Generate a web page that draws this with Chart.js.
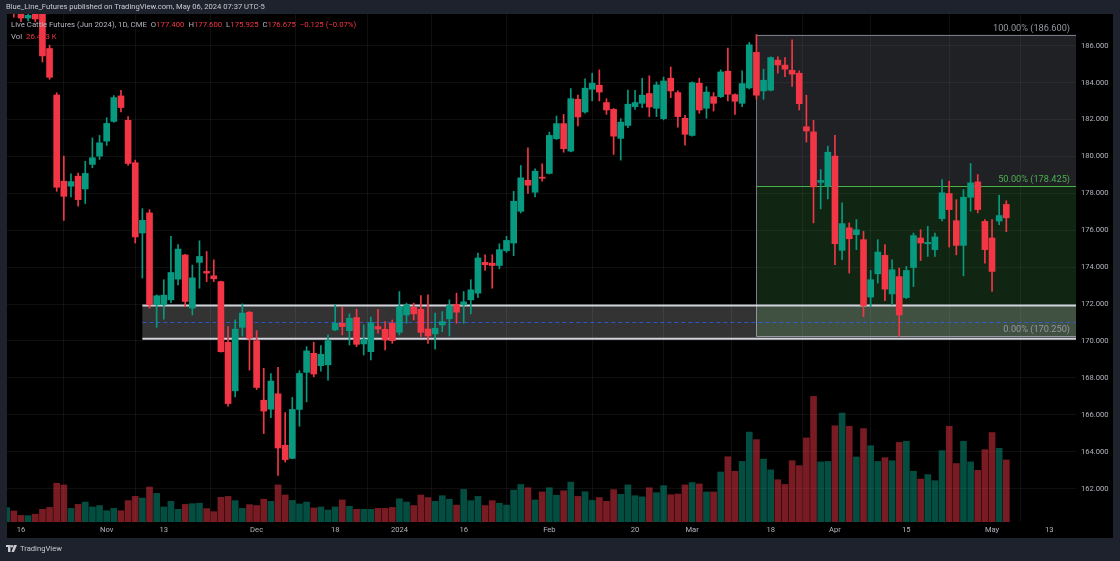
<!DOCTYPE html>
<html>
<head>
	<meta charset="utf-8">
	<title>Live Cattle Futures (Jun 2024)</title>
	<style>
		html, body { margin: 0; padding: 0; background: #1e222d; }
		#wrap { position: relative; width: 1120px; height: 561px; overflow: hidden; }
		#chart { position: absolute; left: 0; top: 0; }
		.txt { position: absolute; font-family: Roboto, "Liberation Sans", sans-serif; font-size: 8px; line-height: 10px; white-space: nowrap; color: #b2b5be; }
		.v { color: #f23645; }
		#header { left: 6px; top: 2px; color: #c9cbd1; }
		#legend1 { left: 11px; top: 20px; }
		#legend2 { left: 11px; top: 32px; }
		#footer { left: 6px; top: 544px; color: #c9cbd1; }
		#footer svg { vertical-align: -1px; margin-right: 3px; }
	</style>
</head>
<body>
<div id="wrap">
	<canvas id="chart" width="1120" height="561"></canvas>
	<div class="txt" id="header">Blue_Line_Futures published on TradingView.com, May 06, 2024 07:37 UTC-5</div>
	<div class="txt" id="legend1"></div>
	<div class="txt" id="legend2"></div>
	<div class="txt" id="footer"><svg width="11" height="7" viewBox="0 0 11 7"><rect x="0" y="0" width="4.5" height="2" fill="#c9cbd1"/><rect x="2" y="0" width="2.5" height="7" fill="#c9cbd1"/><circle cx="6" cy="1.3" r="1.2" fill="#c9cbd1"/><polygon points="8,0 11,0 8,7 5.5,7" fill="#c9cbd1"/></svg><span id="tvname">TradingView</span></div>
</div>
<script src="https://cdn.jsdelivr.net/npm/chart.js@4.4.0/dist/chart.umd.min.js"></script>
<script>
	// trading days shown, plus the empty days on the right
	const dates = [
		"2023-10-12","2023-10-13","2023-10-16","2023-10-17","2023-10-18","2023-10-19","2023-10-20",
		"2023-10-23","2023-10-24","2023-10-25","2023-10-26","2023-10-27","2023-10-30","2023-10-31",
		"2023-11-01","2023-11-02","2023-11-03","2023-11-06","2023-11-07","2023-11-08","2023-11-09","2023-11-10",
		"2023-11-13","2023-11-14","2023-11-15","2023-11-16","2023-11-17","2023-11-20","2023-11-21","2023-11-22","2023-11-24",
		"2023-11-27","2023-11-28","2023-11-29","2023-11-30","2023-12-01","2023-12-04","2023-12-05","2023-12-06","2023-12-07","2023-12-08",
		"2023-12-11","2023-12-12","2023-12-13","2023-12-14","2023-12-15","2023-12-18","2023-12-19","2023-12-20","2023-12-21","2023-12-22",
		"2023-12-26","2023-12-27","2023-12-28","2023-12-29","2024-01-02","2024-01-03","2024-01-04","2024-01-05",
		"2024-01-08","2024-01-09","2024-01-10","2024-01-11","2024-01-12","2024-01-16","2024-01-17","2024-01-18","2024-01-19",
		"2024-01-22","2024-01-23","2024-01-24","2024-01-25","2024-01-26","2024-01-29","2024-01-30","2024-01-31","2024-02-01","2024-02-02",
		"2024-02-05","2024-02-06","2024-02-07","2024-02-08","2024-02-09","2024-02-12","2024-02-13","2024-02-14","2024-02-15","2024-02-16",
		"2024-02-20","2024-02-21","2024-02-22","2024-02-23","2024-02-26","2024-02-27","2024-02-28","2024-02-29","2024-03-01",
		"2024-03-04","2024-03-05","2024-03-06","2024-03-07","2024-03-08","2024-03-11","2024-03-12","2024-03-13","2024-03-14","2024-03-15",
		"2024-03-18","2024-03-19","2024-03-20","2024-03-21","2024-03-22","2024-03-25","2024-03-26","2024-03-27","2024-03-28",
		"2024-04-01","2024-04-02","2024-04-03","2024-04-04","2024-04-05","2024-04-08","2024-04-09","2024-04-10","2024-04-11","2024-04-12",
		"2024-04-15","2024-04-16","2024-04-17","2024-04-18","2024-04-19","2024-04-22","2024-04-23","2024-04-24","2024-04-25","2024-04-26",
		"2024-04-29","2024-04-30","2024-05-01","2024-05-02","2024-05-03",
		"2024-05-06","2024-05-07","2024-05-08","2024-05-09","2024-05-10","2024-05-13","2024-05-14","2024-05-15","2024-05-16","2024-05-17"
	];

	const opens = [
		188.2,188.6,188.4,187.5,188.3,187.9,185.85,183.33,178.66,178.39,178.93,178.24,179.57,180.02,
		180.83,181.9,183.28,181.96,179.66,175.85,176.94,171.96,171.96,172.23,173.35,174.66,171.78,174.26,173.77,173.53,173.22,
		169.93,167.3,170.74,171.56,170.02,166.79,166.3,167.14,164.35,163.64,166.29,168.3,169.33,168.66,168.71,
		170.6,170.96,170.56,171.27,169.84,169.42,170.78,170.63,170.96,170.47,171.41,171.83,171.72,
		170.65,170.38,170.87,171.2,171.99,171.96,172.23,172.59,174.26,174.22,174.09,174.89,175.31,177.03,
		178.71,178.06,178.88,179.08,180.96,181.78,180.29,183.1,182.41,183.64,183.86,182.92,182.55,180.98,181.68,
		182.7,182.88,183.41,182.61,182.05,184.24,183.46,182.07,181.14,183.97,182.61,183.24,183.24,184.62,
		183.35,182.88,183.71,185.64,183.55,183.59,185.22,184.95,184.67,184.51,181.61,181.33,178.6,178.39,
		180.02,174.91,176.13,175.76,175.49,172.38,173.64,174.64,172.55,173.49,172.35,173.98,175.58,175.27,174.95,
		176.63,177.99,176.52,175.18,177.79,178.62,176.48,175.58,176.5,177.4
	];
	const highs = [
		189.1,188.9,188.7,188.0,188.5,188.1,186.03,183.45,180.02,179.06,179.1,179.74,181.0,181.14,
		182.1,183.3,183.59,182.16,179.8,177.17,177.12,172.5,173.32,175.67,175.22,174.7,174.11,175.43,174.85,174.4,173.25,
		170.78,171.14,172.01,171.6,170.56,168.52,168.24,168.57,166.12,166.94,168.39,169.69,169.93,169.75,170.33,
		171.96,171.83,171.47,171.72,170.87,171.29,171.72,171.05,171.14,172.68,172.05,172.05,172.46,
		172.5,171.51,171.59,172.23,172.59,172.68,173.32,174.77,174.67,174.67,175.27,175.67,178.11,179.51,
		180.47,179.33,179.6,181.32,182.19,182.28,183.68,183.32,184.2,184.51,184.69,183.13,182.6,182.05,183.6,
		183.59,184.24,184.37,184.04,184.3,184.85,183.55,182.23,184.05,184.24,183.78,183.46,184.69,185.87,
		183.4,184.64,186.18,186.6,184.73,185.4,185.4,185.36,186.32,184.64,183.32,181.96,179.29,180.56,
		181.14,177.48,176.4,176.58,175.94,173.82,175.49,175.22,174.4,173.95,174.04,175.85,176.03,176.21,175.85,
		178.75,178.66,177.66,178.2,179.62,179.02,176.58,176.58,177.9,177.6
	];
	const lows = [
		188.0,187.55,187.3,187.35,187.3,185.12,184.18,178.11,176.54,177.81,177.3,177.45,179.39,179.84,
		180.6,181.85,182.41,179.51,175.31,173.41,171.78,170.74,171.18,172.08,173.04,171.86,171.41,172.86,173.22,173.22,169.4,
		166.47,166.97,170.27,168.42,167.37,164.98,165.85,162.72,163.44,163.62,165.38,166.7,168.06,168.37,167.88,
		170.56,170.33,169.78,169.69,169.24,168.97,170.42,169.51,169.87,170.33,170.96,171.14,170.23,
		169.87,169.55,170.51,170.27,170.96,170.96,171.47,172.35,173.82,172.86,173.91,174.8,174.62,176.94,
		177.99,177.81,178.66,179.05,180.92,180.23,180.25,181.65,182.35,183.01,183.01,182.28,180.11,179.8,181.56,
		182.55,182.65,182.16,182.16,181.98,183.19,181.59,180.61,181.1,182.34,182.07,182.46,183.19,183.01,
		182.28,182.7,183.65,183.1,183.1,183.55,184.51,184.33,183.79,182.52,180.78,176.4,177.16,177.7,
		174.13,174.4,173.68,174.95,171.32,171.86,173.14,172.19,171.96,170.25,172.3,172.95,174.36,174.58,174.58,
		176.5,175.09,174.67,173.53,177.03,176.94,174.22,172.68,176.3,175.925
	];
	const closes = [
		188.9,187.9,187.5,187.65,187.45,185.45,184.29,178.33,177.84,178.64,177.66,179.08,179.93,180.74,
		181.79,183.19,182.65,179.62,175.64,176.54,171.96,172.45,172.48,173.71,174.98,172.14,173.42,174.58,173.68,173.37,169.42,
		166.61,170.64,171.51,170.15,167.48,166.2,167.83,164.2,163.57,166.29,168.24,169.46,168.21,169.28,170.02,
		170.96,170.78,171.23,169.82,170.09,170.99,170.65,170.05,170.02,171.86,171.96,171.47,170.47,
		170.27,170.69,171.05,171.92,171.56,172.12,172.77,174.5,174.13,174.09,174.95,175.45,177.57,178.84,
		178.44,179.2,178.82,181.14,181.78,180.42,183.13,182.14,183.7,183.97,183.49,182.52,181.1,181.86,182.83,
		182.92,183.32,182.68,183.88,184.09,183.55,182.16,181.2,184.0,182.52,183.49,182.88,184.58,183.37,
		182.99,183.95,186.05,183.32,184.13,185.36,184.96,184.73,184.46,182.86,181.38,178.35,178.7,180.23,
		175.27,176.36,175.54,176.03,171.92,173.32,174.82,172.81,173.86,171.41,173.82,175.71,175.31,175.34,175.64,
		178.03,177.12,175.18,177.79,178.57,177.12,174.95,173.77,176.8,176.675
	];
	// volume in thousands of contracts
	const volumes = [
		6.1,4.7,2.8,2.7,3.3,5.4,6.2,16.5,15.8,5.8,7.5,8.5,6.4,7.0,
		4.8,5.8,4.8,9.1,10.9,10.2,14.9,12.2,6.4,8.8,5.4,7.5,7.8,8.0,5.7,4.4,10.5,
		10.9,9.1,5.8,7.4,7.0,9.7,8.8,15.8,11.5,9.2,7.7,8.5,6.0,6.4,5.1,
		6.4,9.4,6.7,5.4,5.4,5.4,5.8,5.8,6.2,9.9,8.5,7.0,11.5,
		10.4,8.8,11.2,9.7,7.2,13.9,9.1,10.9,7.0,9.1,8.0,7.2,13.6,16.0,
		14.6,9.4,12.8,14.6,11.4,13.3,17.0,10.9,12.9,9.2,10.4,8.8,13.8,11.8,15.8,
		11.2,10.7,14.6,12.5,15.5,11.6,11.9,15.8,16.8,16.2,12.8,12.8,21.3,27.8,
		21.6,25.8,38.3,35.1,26.8,22.2,18.0,16.0,26.1,24.0,35.8,53.5,25.6,25.8,
		41.0,46.4,40.8,27.7,39.8,32.5,25.8,27.4,26.1,33.9,34.4,21.6,18.3,20.2,17.6,
		30.4,40.8,24.9,34.4,25.6,22.0,30.8,38.1,31.4,26.433
	];

	const priceTicks = [162, 164, 166, 168, 170, 172, 174, 176, 178, 180, 182, 184, 186];
	const tickDates = ["2023-10-16","2023-11-01","2023-11-13","2023-12-01","2023-12-18","2024-01-02","2024-01-16",
		"2024-02-01","2024-02-20","2024-03-01","2024-03-18","2024-04-01","2024-04-15","2024-05-01","2024-05-13"];
	const tickText = ["16","Nov","13","Dec","18","2024","16","Feb","20","Mar","18","Apr","15","May","13"];

	// drawings
	const fibStart = "2024-03-14";
	const fibHigh = 186.6;
	const fibLow = 170.25;
	const fibLevels = [1, 0.5, 0];
	const zoneStart = "2023-11-08";
	const zoneTop = 171.92;
	const zoneBottom = 170.12;

	const UP = "#089981", DOWN = "#f23645";
	const UP_VOL = "rgba(8,153,129,0.5)", DOWN_VOL = "rgba(242,54,69,0.5)";
	const GRID = "rgba(255,255,255,0.06)";

	let bodies = [], wicks = [], vols = [], colors = [], volColors = [];
	for (let k = 0; k < closes.length; ++k) {
		let up = closes[k] >= opens[k];
		bodies.push({x: k, y: [opens[k], closes[k]]});
		wicks.push({x: k, y: [lows[k], highs[k]]});
		vols.push({x: k, y: volumes[k]});
		colors.push(up ? UP : DOWN);
		volColors.push(up ? UP_VOL : DOWN_VOL);
	}

	// legend text from the last bar
	let last = closes.length - 1;
	let chg = closes[last] - closes[last - 1];
	let pct = chg / closes[last - 1] * 100;
	let sign = chg < 0 ? "\u2212" : "+";
	document.getElementById("legend1").innerHTML =
		"Live Cattle Futures (Jun 2024), 1D, CME&ensp;O<span class='v'>" + opens[last].toFixed(3) +
		"</span>&ensp;H<span class='v'>" + highs[last].toFixed(3) +
		"</span>&ensp;L<span class='v'>" + lows[last].toFixed(3) +
		"</span>&ensp;C<span class='v'>" + closes[last].toFixed(3) + "&ensp;" + sign + Math.abs(chg).toFixed(3) +
		" (" + sign + Math.abs(pct).toFixed(2) + "%)</span>";
	document.getElementById("legend2").innerHTML = "Vol&ensp;<span class='v'>" + volumes[last].toFixed(3) + " K</span>";

	// scale the overlay text so its width matches the picture
	function fitText(el, target) {
		let fs = parseFloat(getComputedStyle(el).fontSize);
		let w = el.getBoundingClientRect().width;
		let size = fs * target / w;
		el.style.fontSize = size + "px";
		return size;
	}
	fitText(document.getElementById("header"), 259);
	let legSize = fitText(document.getElementById("legend1"), 346);
	document.getElementById("legend2").style.fontSize = legSize + "px";
	document.getElementById("footer").style.fontSize = fitText(document.getElementById("tvname"), 42) + "px";

	const framePlugin = {
		id: "frame",
		beforeDraw(chart) {
			let ctx = chart.ctx, a = chart.chartArea;
			ctx.save();
			ctx.fillStyle = "#1e222d";
			ctx.fillRect(0, 0, chart.width, chart.height);
			ctx.fillStyle = "#000000";
			ctx.fillRect(a.left, a.top, chart.scales.y.right - a.left, chart.scales.x.bottom - a.top);
			ctx.restore();
		}
	};

	const drawingsPlugin = {
		id: "drawings",
		beforeDatasetsDraw(chart) {
			let ctx = chart.ctx, a = chart.chartArea, x = chart.scales.x, y = chart.scales.y;
			ctx.save();
			ctx.beginPath();
			ctx.rect(a.left, a.top, a.right - a.left, a.bottom - a.top);
			ctx.clip();

			// fib retracement
			let fx = x.getPixelForValue(dates.indexOf(fibStart));
			let lv = fibLevels.map((l) => y.getPixelForValue(fibLow + l * (fibHigh - fibLow)));
			ctx.fillStyle = "rgba(120,123,134,0.27)";
			ctx.fillRect(fx, lv[0], a.right - fx, lv[1] - lv[0]);
			ctx.fillStyle = "rgba(76,175,80,0.22)";
			ctx.fillRect(fx, lv[1], a.right - fx, lv[2] - lv[1]);
			let lineCols = ["#787b86", "#4caf50", "#787b86"];
			for (let j = 0; j < fibLevels.length; ++j) {
				ctx.strokeStyle = lineCols[j];
				ctx.lineWidth = 1;
				ctx.beginPath();
				ctx.moveTo(fx, Math.round(lv[j]) + 0.5);
				ctx.lineTo(a.right, Math.round(lv[j]) + 0.5);
				ctx.stroke();
			}
			ctx.strokeStyle = "#787b86";
			ctx.beginPath();
			ctx.moveTo(Math.round(fx) + 0.5, lv[0]);
			ctx.lineTo(Math.round(fx) + 0.5, lv[2]);
			ctx.stroke();

			// support zone
			let zx = x.getPixelForValue(dates.indexOf(zoneStart));
			let zt = y.getPixelForValue(zoneTop), zb = y.getPixelForValue(zoneBottom);
			ctx.fillStyle = "rgba(255,255,255,0.2)";
			ctx.fillRect(zx, zt, a.right - zx, zb - zt);
			ctx.strokeStyle = "#d1d4dc";
			ctx.lineWidth = 2;
			ctx.beginPath();
			ctx.moveTo(zx, zt); ctx.lineTo(a.right, zt);
			ctx.moveTo(zx, zb); ctx.lineTo(a.right, zb);
			ctx.stroke();
			ctx.strokeStyle = "rgba(41,98,255,0.75)";
			ctx.lineWidth = 1;
			ctx.setLineDash([4, 3]);
			ctx.beginPath();
			let zm = Math.round((zt + zb) / 2) + 0.5;
			ctx.moveTo(zx, zm); ctx.lineTo(a.right, zm);
			ctx.stroke();
			ctx.setLineDash([]);

			// fib labels
			ctx.font = "9.2px Roboto, 'Liberation Sans', sans-serif";
			ctx.textAlign = "right";
			ctx.textBaseline = "alphabetic";
			let labCols = ["#9598a1", "#4caf50", "#9598a1"];
			for (let j = 0; j < fibLevels.length; ++j) {
				let price = fibLow + fibLevels[j] * (fibHigh - fibLow);
				ctx.fillStyle = labCols[j];
				ctx.fillText((fibLevels[j] * 100).toFixed(2) + "% (" + price.toFixed(3) + ")", a.right - 6, lv[j] - 4);
			}
			ctx.restore();
		}
	};

	Chart.defaults.font.family = "Roboto, 'Liberation Sans', sans-serif";
	Chart.defaults.font.size = 7.6;
	Chart.defaults.color = "#b2b5be";

	let ctx = document.getElementById("chart").getContext("2d");
	let myChart = new Chart(ctx, {
		type: "bar",
		data: {
			datasets: [
				{ label: "Candles", data: bodies, backgroundColor: colors, barThickness: 6, minBarLength: 1, grouped: false, order: 1 },
				{ label: "Wicks", data: wicks, backgroundColor: colors, barThickness: 1, grouped: false, order: 2 },
				{ label: "Volume", data: vols, backgroundColor: volColors, barThickness: 6, grouped: false, yAxisID: "yv", order: 3 }
			]
		},
		options: {
			responsive: false,
			animation: false,
			devicePixelRatio: 1,
			layout: { padding: { left: 7, top: 14, right: 7, bottom: 23 } },
			plugins: { legend: { display: false }, tooltip: { enabled: false } },
			scales: {
				x: {
					type: "linear",
					min: 0.04,
					max: 149.76,
					offset: false,
					grid: { color: GRID, drawTicks: false },
					border: { display: false },
					ticks: {
						autoSkip: false,
						maxRotation: 0,
						padding: 4,
						callback: function(v) {
							let j = tickDates.indexOf(dates[v]);
							return j >= 0 ? tickText[j] : "";
						}
					},
					afterBuildTicks: function(s) {
						s.ticks = tickDates.map((d) => ({value: dates.indexOf(d)}));
					},
					afterFit: function(s) { s.height = 16; }
				},
				y: {
					position: "right",
					min: 160.19,
					max: 187.72,
					grid: { color: GRID, drawTicks: false },
					border: { display: false },
					ticks: {
						padding: 5,
						callback: (v) => v.toFixed(3)
					},
					afterBuildTicks: function(s) {
						s.ticks = priceTicks.map((v) => ({value: v}));
					},
					afterFit: function(s) { s.width = 37; }
				},
				yv: { display: false, min: 0, max: 216.4 }
			}
		},
		plugins: [framePlugin, drawingsPlugin]
	});
</script>
</body>
</html>
